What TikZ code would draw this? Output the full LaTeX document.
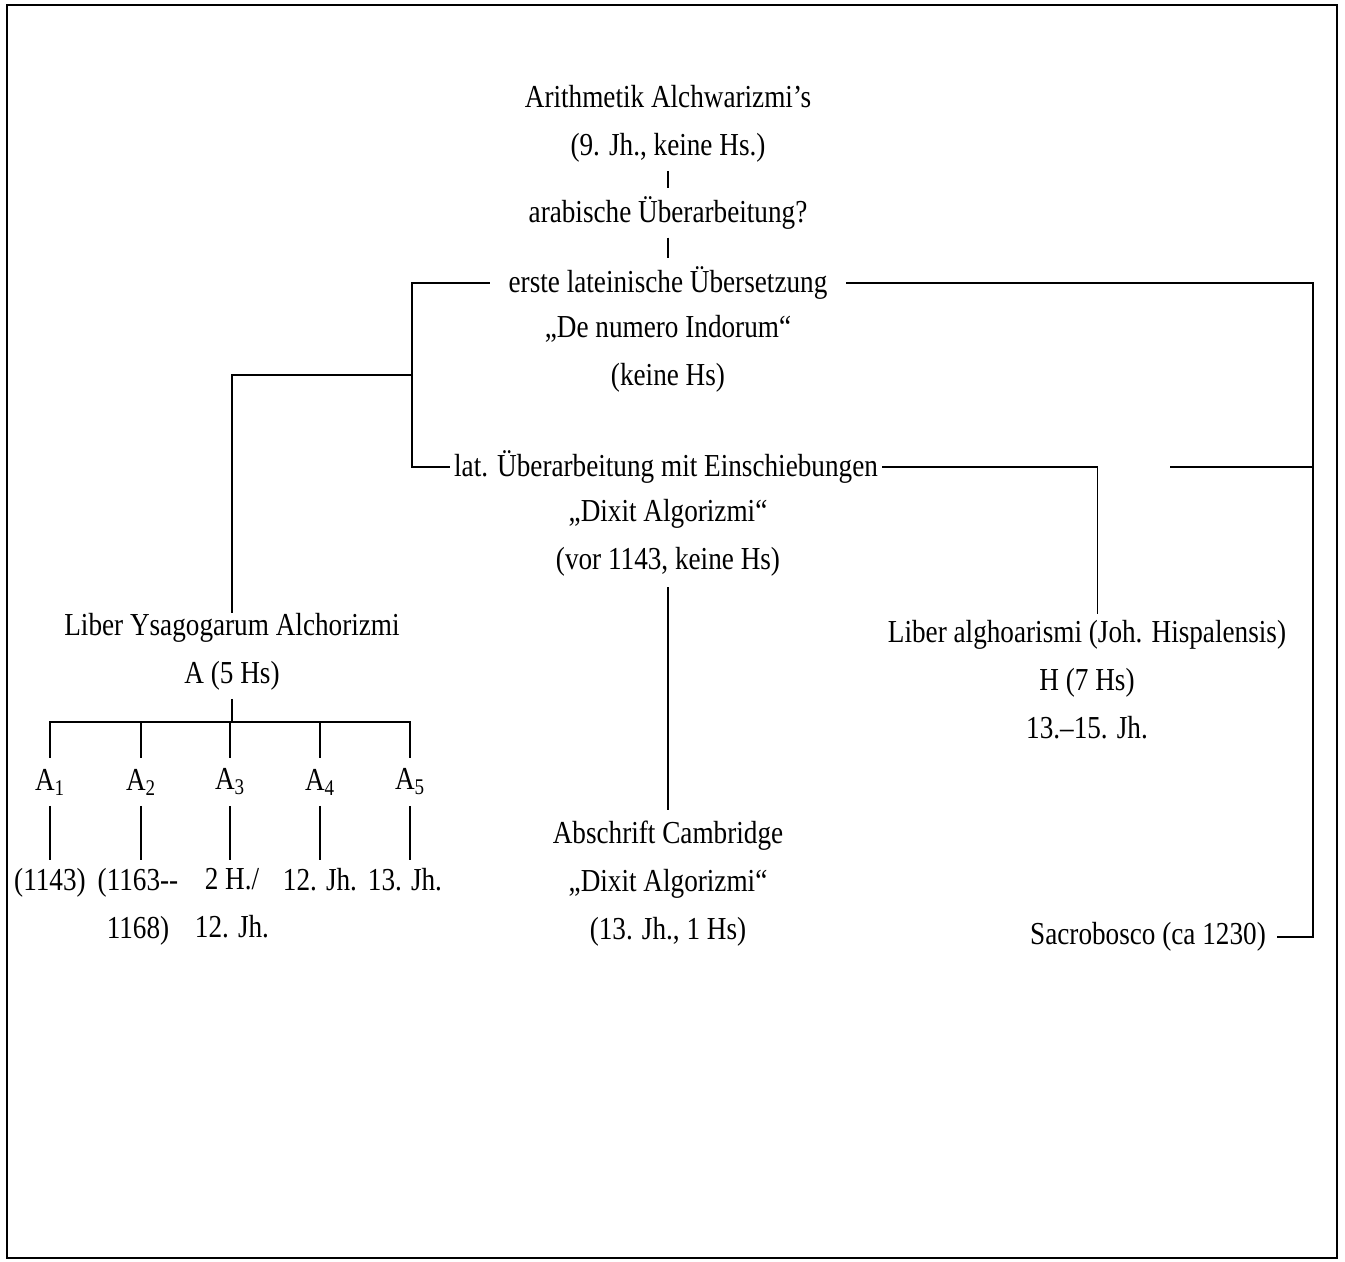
\documentclass[tikz,border=0pt]{standalone}
\usepackage{fontspec}
\setmainfont{Liberation Serif}[FakeStretch=0.85]
\usepackage{tikz}

\tikzset{
  txt/.style={font=\fontsize{24}{36}\selectfont,inner sep=0pt,align=center},
  conn/.style={line width=0.8pt},
}

\begin{document}
\begin{tikzpicture}[x=0.75pt,y=-0.75pt]
\useasboundingbox (0,0) rectangle (1345,1261);
\draw[line width=1.2pt] (7,5) rectangle (1337,1258);

% main line
\node[txt] (arith) at (668,124) {Arithmetik Alchwarizmi's\\(9. Jh., keine Hs.)};
\node[txt] (arab) at (668,213) {arabische Überarbeitung?};
\node[txt] (erste) at (668,283) {erste lateinische Übersetzung};
\node[txt] (indorum) at (668,354) {„De numero Indorum“\\(keine Hs)};
\node[txt] (latueb) at (666,467) {lat. Überarbeitung mit Einschiebungen};
\node[txt] (dixit) at (668,538) {„Dixit Algorizmi“\\(vor 1143, keine Hs)};
\node[txt] (cambr) at (668,884) {Abschrift Cambridge\\„Dixit Algorizmi“\\(13. Jh., 1 Hs)};

% left and right branches
\node[txt] (ysag) at (232,652) {Liber Ysagogarum Alchorizmi\\A (5 Hs)};
\node[txt] (algho) at (1087,680) {Liber alghoarismi (Joh. Hispalensis)\\H (7 Hs)\\13.--15. Jh.};
\node[txt] (sacro) at (1148,937) {Sacrobosco (ca 1230)};

\foreach \i/\x in {1/50,2/141,3/230,4/320,5/410}
  \node[txt] (a\i) at (\x,782) {A\textsubscript{\i}};
\node[txt,anchor=north] (d1) at (50,868) {(1143)};
\node[txt,anchor=north] (d2) at (138,868) {(1163-{}-\\1168)};
\node[txt,anchor=north] (d3) at (232,868) {2 H./\\12. Jh.};
\node[txt,anchor=north] (d4) at (320,868) {12. Jh.};
\node[txt,anchor=north] (d5) at (405,868) {13. Jh.};

\coordinate (bl) at (412,375);
\coordinate (rc) at (1313,467);
\coordinate (ah) at (232,722);
\coordinate (stub) at (1170,467);

% connectors
\draw[conn,shorten <=6pt,shorten >=6pt] (arith) -- (arab);
\draw[conn,shorten <=6pt,shorten >=6pt] (arab) -- (erste);
\draw[conn,shorten <=14pt] (erste.west) -| (bl) |- ([xshift=-3pt]latueb.west);
\draw[conn] (bl) -| (ysag.north);
\draw[conn,shorten <=14pt] (erste.east) -| (rc) |- ([xshift=8pt]sacro.east);
\draw[conn] (stub) -- (rc);
\draw[conn,shorten <=3pt,shorten >=5pt] (latueb.east) -| ([xshift=8pt]algho.north);
\draw[conn,shorten <=8pt,shorten >=8pt] (dixit) -- (cambr);
\draw[conn,shorten <=6pt] (ysag.south) -- (ah);
\foreach \i in {1,...,5}{
  \draw[conn,shorten >=8pt] (ah) -| (a\i.north);
  \draw[conn,shorten <=8pt,shorten >=6pt] (a\i.south) -- (a\i.south |- d\i.north);
}
\end{tikzpicture}
\end{document}
